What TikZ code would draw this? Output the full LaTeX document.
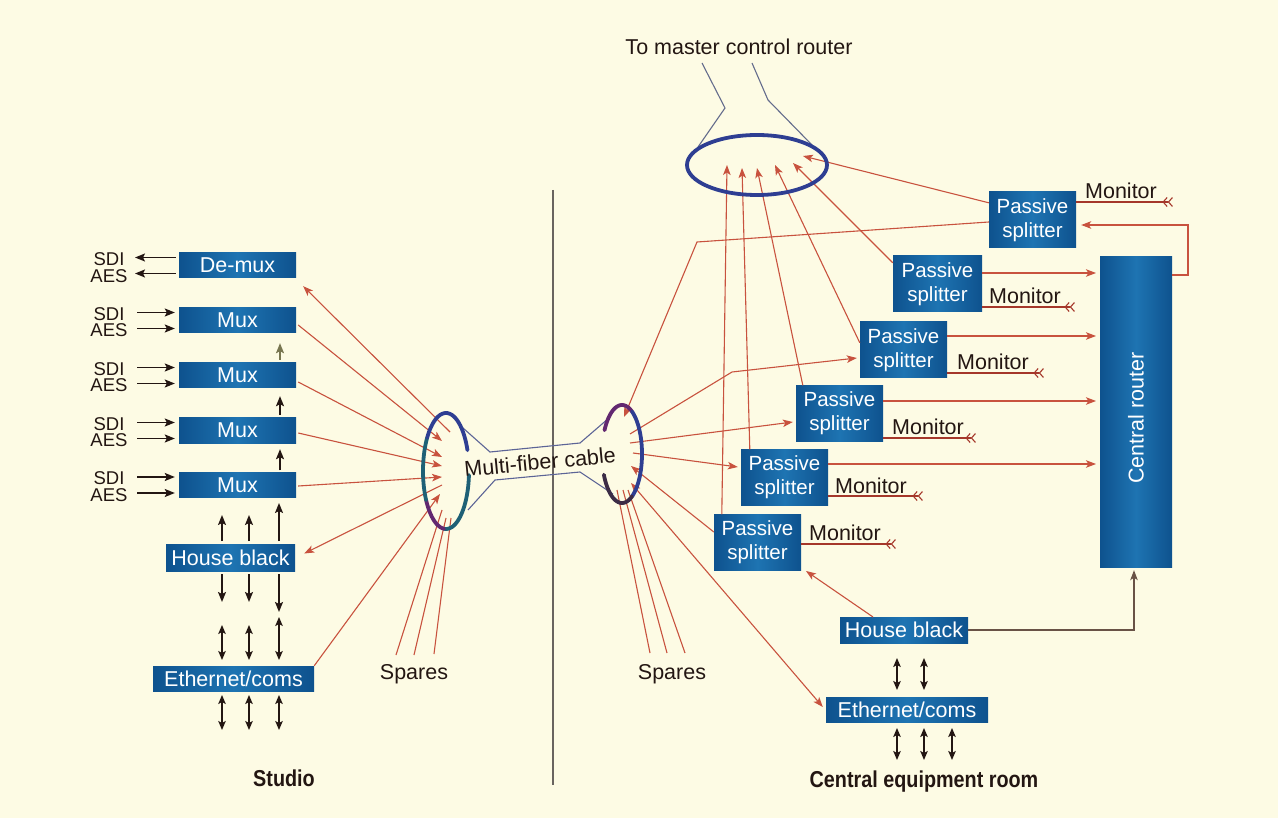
\documentclass[tikz,border=0pt]{standalone}
\usepackage{fontspec}
\usepackage{graphicx}
\setmainfont{Liberation Sans}
\usetikzlibrary{arrows.meta,calc}
\definecolor{bg}{RGB}{253,251,228}
\definecolor{boxA}{RGB}{14,82,142}
\definecolor{boxB}{RGB}{30,116,178}
\definecolor{fib}{RGB}{200,82,62}
\definecolor{ink}{RGB}{35,22,18}
\definecolor{cab}{RGB}{92,100,150}
\definecolor{ringA}{RGB}{46,62,146}
\definecolor{ringB}{RGB}{30,96,118}
\definecolor{ringC}{RGB}{98,40,112}
\definecolor{ringD}{RGB}{60,44,70}
\definecolor{mon}{RGB}{165,55,42}
\definecolor{divi}{RGB}{105,100,95}
\definecolor{olive}{RGB}{120,118,80}
\definecolor{hbline}{RGB}{105,82,70}
\definecolor{mcr}{RGB}{100,108,140}
\begin{document}
\begin{tikzpicture}[x=1pt,y=-1pt,
  bbox/.style={left color=boxA,right color=boxA,middle color=boxB,text=white,inner sep=0pt,font=\fontsize{21.5}{23.5}\selectfont,align=center},
  sbox/.style={bbox,minimum width=87pt,minimum height=56pt,font=\fontsize{20.5}{24}\selectfont},
  lbl/.style={text=ink,inner sep=0pt,font=\fontsize{21.5}{24}\selectfont},
  sig/.style={text=ink,inner sep=0pt,font=\fontsize{18.5}{20}\selectfont},
  ttl/.style={text=ink,inner sep=0pt,font=\fontsize{23}{26}\selectfont\bfseries},
  fibre/.style={draw=fib,line width=1.1pt},
  fa/.style={fibre,-{Stealth[length=10pt,width=7.5pt,inset=2.5pt]}},
  fab/.style={fibre,{Stealth[length=10pt,width=7.5pt,inset=2.5pt]}-{Stealth[length=10pt,width=7.5pt,inset=2.5pt]}},
  ka/.style={draw=ink,line width=1.5pt,-{Stealth[length=10pt,width=8pt,inset=2pt]}},
  kab/.style={draw=ink,line width=1.4pt,{Stealth[length=9pt,width=7.5pt,inset=2pt]}-{Stealth[length=9pt,width=7.5pt,inset=2pt]}},
  monl/.style={draw=mon,line width=1.1pt,-{Straight Barb[reversed,length=4pt,width=9pt]Straight Barb[reversed,length=4pt,width=9pt]}},
  cable/.style={draw=cab,line width=1.1pt},
  ringline/.style={line width=3.8pt,line cap=round},
]
\useasboundingbox (0,0) rectangle (1278,818);
\fill[bg] (0,0) rectangle (1278,818);

% divider
\draw[divi,line width=1.2pt] (553,190) -- (553,785);

% ---------------- Studio side boxes ----------------
\node[bbox,minimum width=117pt,minimum height=25pt] (demux) at (237.5,265.5) {De-mux};
\node[bbox,minimum width=117pt,minimum height=25pt] (mux1) at (237.5,320.5) {Mux};
\node[bbox,minimum width=117pt,minimum height=25pt] (mux2) at (237.5,375.5) {Mux};
\node[bbox,minimum width=117pt,minimum height=25pt] (mux3) at (237.5,430.5) {Mux};
\node[bbox,minimum width=117pt,minimum height=25pt] (mux4) at (237.5,485) {Mux};
\node[bbox,minimum width=129pt,minimum height=27pt] (hbL) at (230.5,557.5) {House black};
\node[bbox,minimum width=161pt,minimum height=25pt] (ethL) at (233.5,678.5) {Ethernet/coms};
\node[ttl] (studio) at (284,778) {\scalebox{0.86}[1]{Studio}};

% SDI / AES
\node[sig] (dm-sdi) at (109,259.5) {SDI};
\node[sig] (dm-aes) at (109,276) {AES};
\coordinate (dm-a) at (135,257.5);
\coordinate (dm-b) at (135,273.5);
\draw[ka,shorten <=3pt] (dm-a -| demux.west) -- (dm-a);
\draw[ka,shorten <=3pt] (dm-b -| demux.west) -- (dm-b);
\foreach \n/\c in {mux1/320.5,mux2/375.5,mux3/430.5,mux4/485}{
  \node[sig] (\n-sdi) at (109,\c-6.5) {SDI};
  \node[sig] (\n-aes) at (109,\c+10) {AES};
  \coordinate (\n-a) at (137,\c-8);
  \coordinate (\n-b) at (137,\c+8);
  \draw[ka,shorten >=4pt] (\n-a) -- (\n-a -| \n.west);
  \draw[ka,shorten >=4pt] (\n-b) -- (\n-b -| \n.west);
}
% chain arrows between muxes
\draw[ka,draw=olive] ($(mux2.north)+(42.5,-3)$) -- ($(mux1.south)+(42.5,10)$);
\draw[ka] ($(mux3.north)+(42.5,-3)$) -- ($(mux2.south)+(42.5,8)$);
\draw[ka] ($(mux4.north)+(42.5,-2)$) -- ($(mux3.south)+(42.5,6)$);

% house black arrows (studio)
\foreach \xx/\nm in {222/a,249/b}{
  \coordinate (hbu\nm) at (\xx,541);
  \draw[ka] (hbu\nm) -- (\xx,515);
  \draw[ka] (\xx,574) -- (\xx,602);
  \draw[kab] (\xx,625) -- (\xx,660);
  \draw[kab] (\xx,695) -- (\xx,730);
}
\draw[ka] (279,541) -- (279,503);
\draw[ka] (279,574) -- (279,612);
\draw[kab] (279,617) -- (279,660);
\draw[kab] (279,695) -- (279,730);

% ---------------- Central side boxes ----------------
\node[sbox] (sp1) at (1032.5,220) {Passive\\splitter};
\node[sbox,minimum width=89pt] (sp2) at (937.5,284) {Passive\\splitter};
\node[sbox] (sp3) at (903.5,350) {Passive\\splitter};
\node[sbox] (sp4) at (839.5,413.5) {Passive\\splitter};
\node[sbox] (sp5) at (784.5,477.5) {Passive\\splitter};
\node[sbox] (sp6) at (757.5,542.5) {Passive\\splitter};
\node[bbox,minimum width=72pt,minimum height=310pt] (router) at (1136,412) {};
\node[text=white,inner sep=0pt,rotate=90,font=\fontsize{21.5}{24}\selectfont] (routerlbl) at (1136,418) {Central router};
\node[bbox,minimum width=128pt,minimum height=26pt] (hbR) at (904,630) {House black};
\node[bbox,minimum width=162pt,minimum height=25pt] (ethR) at (907,709.5) {Ethernet/coms};
\node[ttl] (cer) at (924,782) {\scalebox{0.86}[1]{Central equipment room}};

% Monitor labels
\node[lbl] (mon1) at (1121,191) {Monitor};
\node[lbl] (mon2) at (1025,296) {Monitor};
\node[lbl] (mon3) at (993,362) {Monitor};
\node[lbl] (mon4) at (928,427) {Monitor};
\node[lbl] (mon5) at (871,486) {Monitor};
\node[lbl] (mon6) at (845,533) {Monitor};
\coordinate (m1e) at (1173,202);
\coordinate (m2e) at (1075,307);
\coordinate (m3e) at (1044,373);
\coordinate (m4e) at (976,438);
\coordinate (m5e) at (923,496);
\coordinate (m6e) at (896,544);
\draw[monl] (sp1.east |- m1e) -- (m1e);
\draw[monl] (sp2.east |- m2e) -- (m2e);
\draw[monl] (sp3.east |- m3e) -- (m3e);
\draw[monl] (sp4.east |- m4e) -- (m4e);
\draw[monl] (sp5.east |- m5e) -- (m5e);
\draw[monl] (sp6.east |- m6e) -- (m6e);

% arrows between central boxes
\draw[kab] (897,658) -- (897,690);
\draw[kab] (924,658) -- (924,690);
\draw[kab] (897,728) -- (897,760);
\draw[kab] (924,728) -- (924,760);
\draw[kab] (952,728) -- (952,760);

% splitters to router
\coordinate (r2) at (1096,273);
\coordinate (r3) at (1096,336);
\coordinate (r4) at (1096,401);
\coordinate (r5) at (1096,464);
\draw[fa] (sp2.east |- r2) -- (r2);
\draw[fa] (sp3.east |- r3) -- (r3);
\draw[fa] (sp4.east |- r4) -- (r4);
\draw[fa] (sp5.east |- r5) -- (r5);
% router to splitter 1
\coordinate (rt1) at (1188,275);
\coordinate (rt2) at (1188,225);
\draw[fa] (router.east |- rt1) -- (rt1) -- (rt2) -- ($(sp1.east |- rt2)+(5,0)$);
% house black to router
\coordinate (hbk) at (1134,630);
\draw[draw=hbline,line width=1.1pt,-{Stealth[length=10pt,width=7.5pt,inset=2.5pt]}] (hbR.east) -- (hbk) -- ($(hbk |- router.south)+(0,3)$);
% house black to splitter 6
\coordinate (hbs) at (873,617);
\draw[fa] (hbs) -- (806,571);

% ---------------- top bundle ----------------
\node[lbl] (mcr) at (739,47) {To master control router};
\draw[draw=mcr,line width=1.1pt] (702,63) -- (725,108) -- (698,147);
\draw[draw=mcr,line width=1.1pt] (752,63) -- (768,100) -- (812,145);
\coordinate (te1) at (727,165);
\coordinate (te2) at (742,168);
\coordinate (te3) at (757,168);
\coordinate (te4) at (775,165);
\coordinate (te5) at (793,163);
\coordinate (te6) at (803,156);
\draw[fa] ($(sp6.north west)+(8,0)$) -- (te1);
\draw[fa] ($(sp5.north west)+(9,0)$) -- (te2);
\draw[fa] ($(sp4.north west)+(7,0)$) -- (te3);
\draw[fa] ($(sp3.north west)+(0,21)$) -- (te4);
\draw[fa] ($(sp2.north west)+(0,7)$) -- (te5);
\draw[fa] ($(sp1.north west)+(0,11)$) -- (te6);

% ---------------- right cable end ----------------
\coordinate (re1) at (624,417);
\draw[fa] ($(sp1.west)+(0,2)$) -- (697,242) -- (re1);
\coordinate (rs3) at (630,434);
\draw[fa] (rs3) -- (732,372) -- ($(sp3.west)+(-3,8)$);
\coordinate (rs4) at (630,443);
\draw[fa] (rs4) -- ($(sp4.west)+(-3,8.5)$);
\coordinate (rs5) at (633,453);
\draw[fa] (rs5) -- ($(sp5.west)+(-3,-10.5)$);
\coordinate (re6) at (631,466);
\draw[fa] ($(sp6.west)+(0,-10.5)$) -- (re6);
\coordinate (re7) at (631,483);
\draw[fab] (re7) -- ($(ethR.west)+(-3,-2.5)$);
% spares right
\draw[fibre] (617,490) -- (650,653);
\draw[fibre] (623,490) -- (667,653);
\draw[fibre] (628,490) -- (685,653);
\node[lbl] (sparesR) at (672,674) {Spares};

% ---------------- left cable end ----------------
\coordinate (ls0) at (450,432);
\draw[fa] (ls0) -- ($(demux.south east)+(7,8)$);
\coordinate (lt1) at (442,441);
\coordinate (lt2) at (442,457);
\coordinate (lt3) at (442,466);
\coordinate (lt4) at (442,477);
\coordinate (lt5) at (440,494);
\draw[fa] ($(mux1.east)+(2,4.5)$) -- (lt1);
\draw[fa] ($(mux2.east)+(2,6.5)$) -- (lt2);
\draw[fa] ($(mux3.east)+(2,2.5)$) -- (lt3);
\draw[fa] ($(mux4.east)+(2,1)$) -- (lt4);
\draw[fa] (ethL.north east) -- (lt5);
\coordinate (ls6) at (442,485);
\draw[fa] (ls6) -- ($(hbL.east)+(9,-4)$);
% spares left
\draw[fibre] (396,655) -- (442,510);
\draw[fibre] (414,655) -- (446,518);
\draw[fibre] (434,654) -- (451,518);
\node[lbl] (sparesL) at (414,674) {Spares};

% ---------------- cable funnel ----------------
\draw[cable] (463,428) -- (490,452) -- (580,443) -- (609,418);
\draw[cable] (468,510) -- (495,480) -- (580,472) -- (613,494);

% rings
\draw[ringline,draw=ringB] plot[domain=4:95,samples=40] ({446+23*cos(\x)},{471+58*sin(\x)});
\draw[ringline,draw=ringC] plot[domain=95:150,samples=30] ({446+23*cos(\x)},{471+58*sin(\x)});
\draw[ringline,draw=ringB] plot[domain=150:215,samples=30] ({446+23*cos(\x)},{471+58*sin(\x)});
\draw[ringline,draw=ringA] plot[domain=215:339,samples=50] ({446+23*cos(\x)},{471+58*sin(\x)});

\draw[ringline,draw=ringC] plot[domain=209:300,samples=40] ({622+20*cos(\x)},{454+49*sin(\x)});
\draw[ringline,draw=ringA] plot[domain=300:420,samples=50] ({622+20*cos(\x)},{454+49*sin(\x)});
\draw[ringline,draw=ringD] plot[domain=420:515,samples=40] ({622+20*cos(\x)},{454+49*sin(\x)});

\draw[ringline,draw=ringA] (757,165) ellipse [x radius=70pt,y radius=30pt];

\node[lbl,rotate=5.5] (mfc) at (540,462) {Multi-fiber cable};
\end{tikzpicture}
\end{document}
